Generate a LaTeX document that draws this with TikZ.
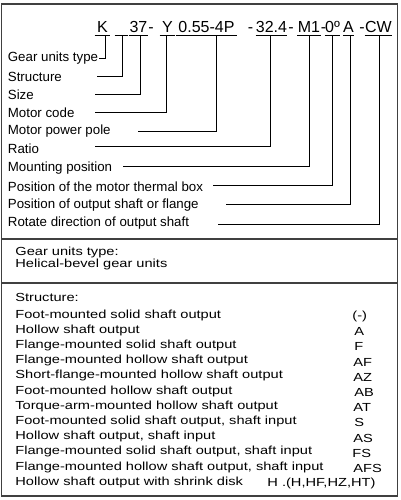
\documentclass[tikz,border=0pt]{standalone}
\usepackage{fontspec}
\setmainfont{Liberation Sans}
\newfontfamily\widefont[FakeStretch=1.25]{Liberation Sans}
\usetikzlibrary{positioning, calc}

\begin{document}
\begin{tikzpicture}[
    x=1pt, y=-1pt,
    line width=0.8pt,
    code/.style={anchor=base, font=\fontsize{16}{17}\selectfont, inner xsep=0pt, inner ysep=1.7pt, text height=11.5pt, text depth=0pt},
    hyphen/.style={anchor=base, font=\fontsize{16}{17}\selectfont, inner sep=0pt},
    fieldname/.style={anchor=west, inner sep=0pt, font=\fontsize{13.3}{14}\selectfont},
    item/.style={anchor=west, inner sep=0pt, font=\widefont\fontsize{11.7}{12}\selectfont},
    frame/.style={draw=black!75, line width=1.1pt}
]
    \useasboundingbox (0,0) rectangle (401,500);

    % ================= FRAME =================
    \draw[frame] (1.5,4) rectangle (397.5,496);
    \draw[frame] (1.5,239) -- (397.5,239);
    \draw[frame] (1.5,283) -- (397.5,283);

    % ================= TYPE CODE =================
    \node[code, minimum width=15pt] (cK) at (102.5,33) {K};
    \node[code, minimum width=13pt] (cS) at (121.5,33) {};
    \node[code, minimum width=19pt] (c37) at (138.5,33) {37};
    \node[hyphen] (d1) at (151,33) {-};
    \node[code, minimum width=15pt] (cY) at (167.5,33) {Y};
    \node[code, minimum width=61pt] (cP) at (206.5,33) {0.55-4P};
    \node[hyphen] (d2) at (250.5,33) {-};
    \node[code, minimum width=31pt] (cR) at (271.5,33) {32.4};
    \node[hyphen] (d3) at (291,33) {-};
    \node[code, minimum width=23pt] (cM) at (309,33) {M1};
    \node[hyphen] (d4) at (323.5,33) {-};
    \node[code, minimum width=12pt] (cD) at (332.5,33) {0º};
    \node[code, minimum width=10pt] (cA) at (348.5,33) {A};
    \node[hyphen] (d5) at (362,33) {-};
    \node[code, minimum width=27pt] (cCW) at (378.5,33) {CW};

    \foreach \seg in {cK,cS,c37,cY,cP,cR,cM,cD,cA,cCW}
        \draw (\seg.south west) -- (\seg.south east);

    % ================= FIELD NAMES =================
    \node[fieldname] (lGear) at (7.5,58) {Gear units type};
    \node[fieldname] (lStruct) at (7.5,76.5) {Structure};
    \node[fieldname] (lSize) at (7.5,94.5) {Size};
    \node[fieldname] (lMotor) at (7.5,113) {Motor code};
    \node[fieldname] (lPole) at (7.5,131.5) {Motor power pole};
    \node[fieldname] (lRatio) at (7.5,149) {Ratio};
    \node[fieldname] (lMount) at (7.5,168) {Mounting position};
    \node[fieldname] (lBox) at (7.5,186.5) {Position of the motor thermal box};
    \node[fieldname] (lShaft) at (7.5,205) {Position of output shaft or flange};
    \node[fieldname] (lRot) at (7.5,223.5) {Rotate direction of output shaft};

    \coordinate (sStruct) at (97,76);
    \coordinate (sSize) at (95,94);
    \coordinate (sMotor) at (95,112);
    \coordinate (sPole) at (138,131.5);
    \coordinate (sRatio) at (95,146);
    \coordinate (sMount) at (123,166);
    \coordinate (sBox) at (213,185);
    \coordinate (sShaft) at (226,204.5);
    \coordinate (sRot) at (218,224);

    % ================= LEADERS =================
    \draw ([xshift=1pt]lGear.east) -| ([xshift=2.5pt]cK.south);
    \draw (sStruct) -| ([xshift=1pt]cS.south);
    \draw (sSize) -| ([xshift=1.5pt]c37.south);
    \draw (sMotor) -| ([xshift=-1.5pt]cY.south);
    \draw (sPole) -| ([xshift=10pt]cP.south);
    \draw (sRatio) -| ([xshift=-1pt]cR.south);
    \draw (sMount) -| (cM.south);
    \draw (sBox) -| (cD.south);
    \draw (sShaft) -| ([xshift=2pt]cA.south);
    \draw (sRot) -| ([xshift=1pt]cCW.south);

    % ================= GEAR UNITS TYPE =================
    \node[item] (tHead) at (15,252) {Gear units type:};
    \node[item] (tVal) at (15,264) {Helical-bevel gear units};

    % ================= STRUCTURE =================
    \node[item] (sHead) at (15,297) {Structure:};

    \node[item] (i1) at (15,315) {Foot-mounted solid shaft output};
    \node[item] (i2) at (15,330.2) {Hollow shaft output};
    \node[item] (i3) at (15,345.4) {Flange-mounted solid shaft output};
    \node[item] (i4) at (15,360.6) {Flange-mounted hollow shaft output};
    \node[item] (i5) at (15,375.8) {Short-flange-mounted hollow shaft output};
    \node[item] (i6) at (15,391) {Foot-mounted hollow shaft output};
    \node[item] (i7) at (15,406.2) {Torque-arm-mounted hollow shaft output};
    \node[item] (i8) at (15,421.4) {Foot-mounted solid shaft output, shaft input};
    \node[item] (i9) at (15,436.6) {Hollow shaft output, shaft input};
    \node[item] (i10) at (15,451.8) {Flange-mounted solid shaft output, shaft input};
    \node[item] (i11) at (15,467) {Flange-mounted hollow shaft output, shaft input};
    \node[item] (i12) at (15,482.2) {Hollow shaft output with shrink disk};

    \node[item] (k1) at (352,316.5) {(-)};
    \node[item] (k2) at (354,331.7) {A};
    \node[item] (k3) at (354,346.9) {F};
    \node[item] (k4) at (353,362.1) {AF};
    \node[item] (k5) at (353,377.3) {AZ};
    \node[item] (k6) at (354,392.5) {AB};
    \node[item] (k7) at (353,407.7) {AT};
    \node[item] (k8) at (354,422.9) {S};
    \node[item] (k9) at (353,438.1) {AS};
    \node[item] (k10) at (352,453.3) {FS};
    \node[item] (k11) at (353,468.5) {AFS};
    \node[item] (k12) at (267,483.2) {H .(H,HF,HZ,HT)};

\end{tikzpicture}
\end{document}
